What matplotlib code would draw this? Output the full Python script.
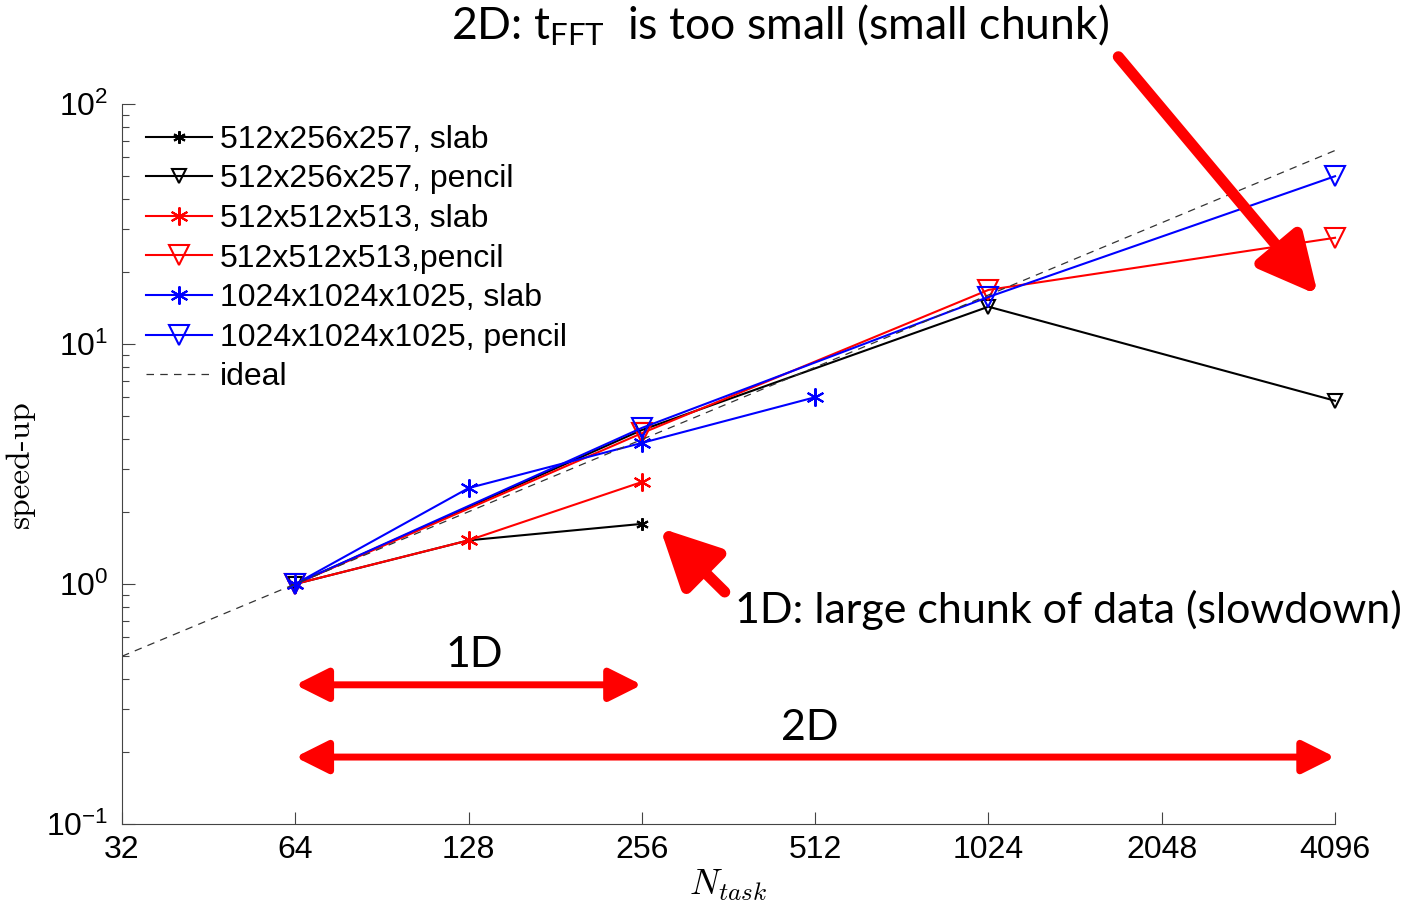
import numpy as np
import matplotlib
matplotlib.use("Agg")
import matplotlib.pyplot as plt
from matplotlib.patches import FancyArrowPatch

plt.rcParams['font.family'] = ['Liberation Sans', 'DejaVu Sans']
plt.rcParams['mathtext.fontset'] = 'custom'
plt.rcParams['mathtext.rm'] = 'Lato'
plt.rcParams['mathtext.it'] = 'Lato:italic'

# data
ntask_ticks = [32, 64, 128, 256, 512, 1024, 2048, 4096]

n_slab_small = [64, 128, 256]
s_slab_small = [1.0, 1.52, 1.78]
n_pencil_small = [64, 256, 1024, 4096]
s_pencil_small = [1.0, 4.38, 14.3, 5.8]

n_slab_mid = [64, 128, 256]
s_slab_mid = [1.0, 1.52, 2.66]
n_pencil_mid = [64, 256, 1024, 4096]
s_pencil_mid = [1.0, 4.25, 16.8, 27.7]

n_slab_big = [64, 128, 256, 512]
s_slab_big = [1.0, 2.51, 3.87, 6.0]
n_pencil_big = [64, 256, 1024, 4096]
s_pencil_big = [1.0, 4.47, 15.7, 50.0]

n_ideal = [32, 4096]
s_ideal = [0.5, 64.0]

asterisk = (6, 2, 0)

fig = plt.figure(figsize=(14.21, 9.01), dpi=100)
ax = fig.add_axes([0.0859, 0.0855, 0.8536, 0.7991])

ax.plot(n_slab_small, s_slab_small, color='black', lw=1.5, marker=asterisk, ms=9, mew=1.5,
        label='512x256x257, slab', clip_on=False)
ax.plot(n_pencil_small, s_pencil_small, color='black', lw=1.5, marker='v', ms=10, mew=1.5,
        mfc='none', label='512x256x257, pencil', clip_on=False)
ax.plot(n_slab_mid, s_slab_mid, color='red', lw=1.5, marker=asterisk, ms=13, mew=1.5,
        label='512x512x513, slab', clip_on=False)
ax.plot(n_pencil_mid, s_pencil_mid, color='red', lw=1.5, marker='v', ms=14, mew=1.5,
        mfc='none', label='512x512x513,pencil', clip_on=False)
ax.plot(n_slab_big, s_slab_big, color='blue', lw=1.5, marker=asterisk, ms=13, mew=1.5,
        label='1024x1024x1025, slab', clip_on=False)
ax.plot(n_pencil_big, s_pencil_big, color='blue', lw=1.5, marker='v', ms=14, mew=1.5,
        mfc='none', label='1024x1024x1025, pencil', clip_on=False)
ax.plot(n_ideal, s_ideal, color='#333333', lw=0.9, ls=(0, (6, 5)), label='ideal')

ax.set_xscale('log', base=2)
ax.set_yscale('log')
ax.set_xlim(32, 4096)
ax.set_ylim(0.1, 100)
ax.set_xticks(ntask_ticks)
ax.set_xticklabels([str(n) for n in ntask_ticks])
ax.xaxis.set_minor_locator(matplotlib.ticker.NullLocator())

for s in ['top', 'right']:
    ax.spines[s].set_visible(False)
ax.spines['left'].set_color('#444444')
ax.spines['bottom'].set_color('#444444')
ax.tick_params(axis='both', which='major', direction='in', length=9, width=0.8,
               labelsize=23, color='#444444')
ax.tick_params(axis='y', which='minor', direction='in', length=5, width=0.8, color='#444444')
ax.tick_params(axis='x', pad=8)
ax.tick_params(axis='y', pad=10)

ax.set_xlabel(r'$N_{task}$', fontsize=26, math_fontfamily='cm', labelpad=2)
ax.set_ylabel('speed-up', fontsize=24, family='cmr10', labelpad=8)

leg = ax.legend(loc='upper left', bbox_to_anchor=(0.02, 0.971), frameon=False, fontsize=23,
                handlelength=2.05, handletextpad=0.25, labelspacing=0.3, borderpad=0,
                borderaxespad=0)

# annotations
red = '#ff0000'
fig.text(0.549, 0.972, r'2D: t$_{\mathrm{FFT}}$  is too small (small chunk)', fontsize=32,
         family='Lato', ha='center', va='center')
fig.text(0.517, 0.323, '1D: large chunk of data (slowdown)', fontsize=31, family='Lato',
         ha='left', va='center')
fig.text(0.334, 0.273, '1D', fontsize=31, family='Lato', ha='center', va='center')
fig.text(0.570, 0.192, '2D', fontsize=31, family='Lato', ha='center', va='center')

big = dict(arrowstyle='-|>,head_length=1.6,head_width=0.8', mutation_scale=22,
           color=red, lw=8, joinstyle='round', capstyle='round', shrinkA=0, shrinkB=0)
fig.patches.append(FancyArrowPatch((0.787, 0.937), (0.9275, 0.6726),
                                   transform=fig.transFigure, **big))
fig.patches.append(FancyArrowPatch((0.510, 0.343), (0.4645, 0.414),
                                   transform=fig.transFigure, **big))

dbl = dict(arrowstyle='<|-|>,head_length=1.1,head_width=0.55', mutation_scale=18,
           color=red, lw=5, joinstyle='round', capstyle='round', clip_on=False,
           shrinkA=0, shrinkB=0)
ax.add_patch(FancyArrowPatch((64, 0.38), (256, 0.38), transform=ax.transData, **dbl))
ax.add_patch(FancyArrowPatch((64, 0.19), (4096, 0.19), transform=ax.transData, **dbl))

fig.savefig('out.png', dpi=100)
